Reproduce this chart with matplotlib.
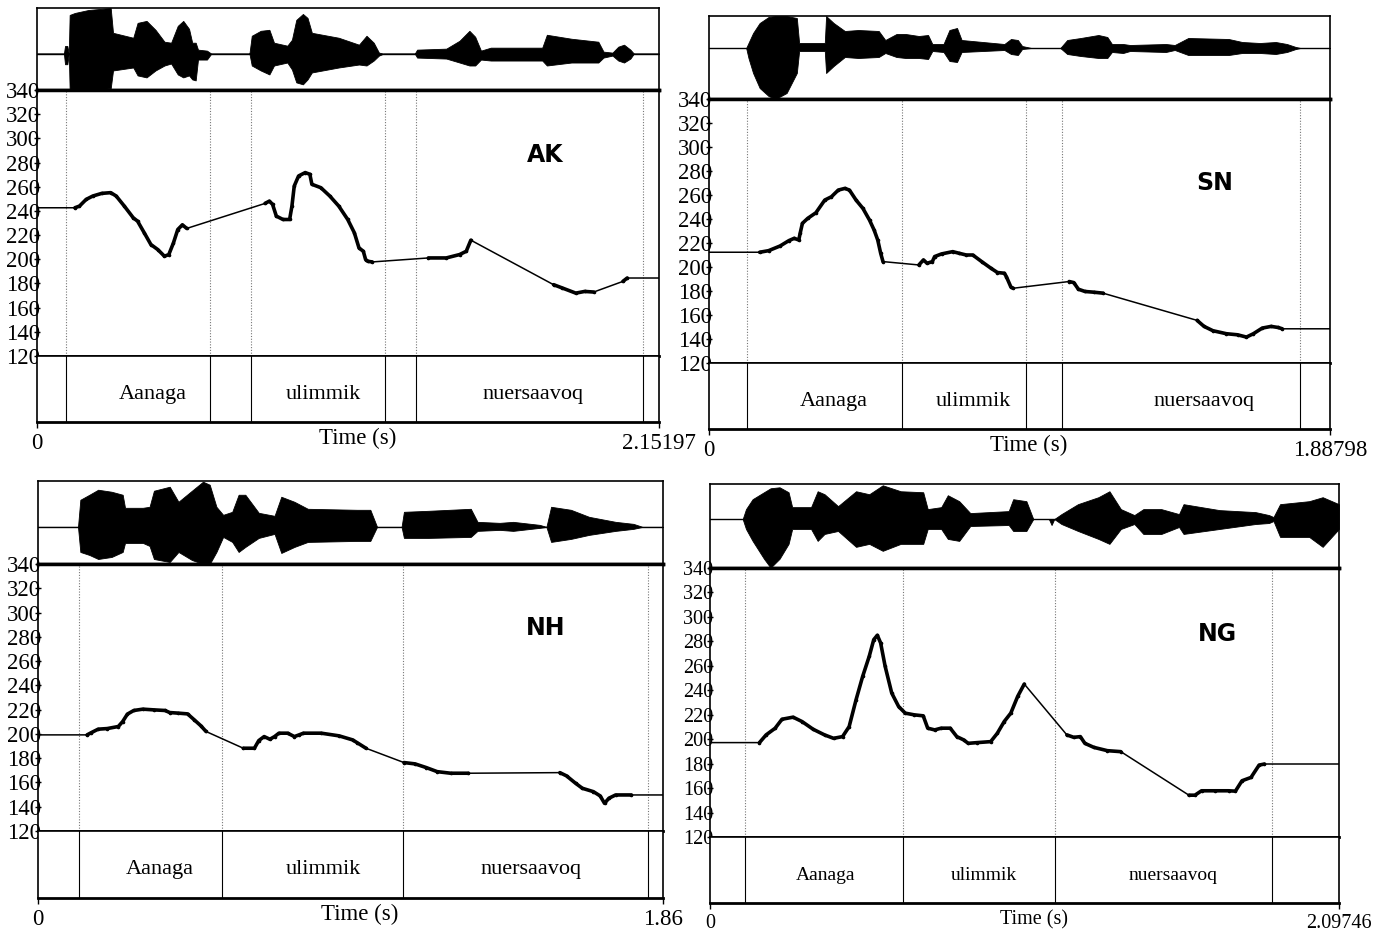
import matplotlib
matplotlib.use("Agg")
import matplotlib.pyplot as plt

W, H = 1394, 931

# ---------------- data ----------------
speakers = ["AK", "SN", "NH", "NG"]
durations = [2.15197, 1.88798, 1.86, 2.09746]
dur_labels = ["2.15197", "1.88798", "1.86", "2.09746"]
words = ["Aanaga", "ulimmik", "nuersaavoq"]

# interval boundaries (s)
ak_bounds = [0.100, 0.599, 0.740, 1.204, 1.311, 2.097]
sn_bounds = [0.1155, 0.587, 0.964, 1.073, 1.797]
nh_bounds = [0.122, 0.548, 1.086, 1.815]
ng_bounds = [0.117, 0.644, 1.150, 1.874]

# centre of the word labels (s)
ak_word_t = [0.401, 0.989, 1.716]
sn_word_t = [0.380, 0.803, 1.505]
nh_word_t = [0.363, 0.848, 1.467]
ng_word_t = [0.384, 0.914, 1.544]

# speaker tag position (fraction of duration, Hz)
tag_pos = [(0.817, 286), (0.815, 270), (0.812, 287), (0.806, 286)]

# pitch contours: voiced stretches (time s, F0 Hz)
ak_t = [[0.131, 0.147, 0.170, 0.193, 0.224, 0.255, 0.274, 0.302, 0.333, 0.348, 0.371,
         0.394, 0.418, 0.441, 0.456, 0.472, 0.487, 0.503, 0.518],
        [0.789, 0.804, 0.815, 0.828, 0.851, 0.874, 0.882, 0.890, 0.905, 0.928, 0.944,
         0.951, 0.982, 1.013, 1.044, 1.075, 1.098, 1.114, 1.129, 1.137, 1.145, 1.160],
        [1.354, 1.416, 1.462, 1.485, 1.501],
        [1.787, 1.818, 1.864, 1.895, 1.926],
        [2.027, 2.042]]
ak_f = [[242.6, 244.0, 249.5, 252.3, 254.5, 255.1, 252.3, 244.0, 234.3, 231.5, 221.9,
         212.2, 208.0, 202.5, 203.9, 213.5, 224.6, 228.5, 225.5],
        [246.2, 248.1, 245.4, 235.7, 232.9, 232.9, 244.0, 260.6, 268.9, 271.7, 270.3,
         262.0, 259.2, 252.3, 244.0, 232.9, 221.9, 209.4, 206.6, 199.7, 198.3, 197.8],
        [201.1, 201.1, 203.9, 206.6, 215.8],
        [179.0, 176.2, 172.0, 173.4, 172.9],
        [181.7, 184.5]]

sn_t = [[0.154, 0.181, 0.216, 0.243, 0.259, 0.273, 0.277, 0.284, 0.300, 0.325, 0.352,
         0.372, 0.393, 0.413, 0.427, 0.447, 0.468, 0.488, 0.502, 0.513, 0.522, 0.529],
        [0.638, 0.652, 0.663, 0.679, 0.686, 0.707, 0.741, 0.761, 0.782, 0.802, 0.829,
         0.857, 0.877, 0.898, 0.904, 0.918, 0.925],
        [1.095, 1.109, 1.123, 1.143, 1.170, 1.198],
        [1.484, 1.505, 1.532, 1.573, 1.607, 1.634, 1.655, 1.682, 1.709, 1.730, 1.743]]
sn_f = [[212.3, 213.6, 217.5, 222.0, 223.9, 222.5, 228.0, 236.4, 240.5, 245.2, 255.8,
         258.5, 264.1, 265.5, 264.1, 255.8, 248.8, 239.1, 230.8, 222.5, 211.4, 204.5],
        [201.7, 205.9, 203.1, 204.5, 208.7, 210.9, 212.8, 211.4, 210.0, 210.0, 204.5,
         199.0, 195.4, 194.8, 192.0, 183.2, 182.3],
        [187.9, 187.0, 181.5, 179.6, 179.0, 178.2],
        [155.5, 150.5, 146.9, 144.4, 143.5, 141.6, 144.4, 149.1, 150.5, 149.6, 148.5]]

nh_t = [[0.146, 0.159, 0.179, 0.206, 0.239, 0.252, 0.266, 0.285, 0.312, 0.345, 0.378,
         0.392, 0.418, 0.445, 0.465, 0.485, 0.500],
        [0.611, 0.644, 0.657, 0.673, 0.690, 0.704, 0.717, 0.743, 0.763, 0.777, 0.790,
         0.843, 0.896, 0.936, 0.949, 0.976],
        [1.089, 1.122, 1.155, 1.188, 1.228, 1.281],
        [1.553, 1.573, 1.600, 1.620, 1.653, 1.673, 1.686, 1.699, 1.719, 1.766]]
nh_f = [[199.2, 201.1, 203.9, 204.4, 206.1, 210.2, 216.3, 219.3, 220.4, 219.8, 219.3,
         217.6, 217.1, 216.5, 211.6, 206.6, 202.0],
        [188.2, 188.2, 194.5, 197.8, 195.6, 197.8, 200.6, 200.6, 197.8, 199.2, 200.6,
         200.6, 198.4, 195.1, 192.9, 188.2],
        [176.4, 175.3, 172.3, 168.9, 167.6, 167.6],
        [168.1, 165.4, 159.3, 155.2, 152.4, 148.9, 142.8, 147.0, 149.7, 149.7]]

ng_t = [[0.165, 0.187, 0.217, 0.240, 0.277, 0.307, 0.344, 0.382, 0.412, 0.442, 0.464,
         0.487, 0.509, 0.531, 0.546, 0.558, 0.569, 0.584, 0.606, 0.629, 0.651, 0.681,
         0.711, 0.726, 0.749, 0.771, 0.801, 0.823, 0.846, 0.861, 0.891, 0.936, 0.958,
         0.981, 1.003, 1.026, 1.048],
        [1.190, 1.213, 1.235, 1.250, 1.280, 1.325, 1.370],
        [1.597, 1.617, 1.639, 1.684, 1.729, 1.752, 1.774, 1.804, 1.831, 1.849]]
ng_f = [[197.2, 203.5, 208.9, 216.3, 218.0, 214.4, 208.1, 203.5, 200.7, 202.1, 210.3,
         232.2, 251.3, 267.8, 281.4, 285.0, 278.7, 259.6, 237.7, 226.7, 221.3, 219.9,
         219.1, 209.0, 207.6, 209.0, 209.0, 202.1, 199.4, 196.6, 197.2, 198.0, 204.8,
         214.4, 221.3, 235.0, 245.1],
        [203.5, 201.5, 202.1, 196.6, 193.3, 190.6, 189.8],
        [154.2, 154.2, 157.8, 157.8, 157.8, 157.5, 166.0, 168.7, 178.8, 179.7]]

# waveform envelopes (time s, upper, lower amplitude)
ak_wt = [0, 0.093, 0.097, 0.105, 0.110, 0.113, 0.131, 0.178, 0.255, 0.263, 0.333, 0.348,
         0.379, 0.410, 0.441, 0.464, 0.487, 0.506, 0.526, 0.537, 0.549, 0.557, 0.588,
         0.603, 0.735, 0.743, 0.774, 0.804, 0.820, 0.866, 0.882, 0.897, 0.920, 0.936,
         0.951, 1.044, 1.114, 1.140, 1.165, 1.183, 1.199, 1.307, 1.315, 1.416, 1.462,
         1.496, 1.516, 1.536, 1.570, 1.748, 1.764, 1.849, 1.942, 1.960, 1.991, 2.011,
         2.031, 2.053, 2.065, 2.152]
ak_wu = [0, 0, 7.7, 7.7, 0, 39, 41, 44, 46, 21, 16, 31, 33, 24, 12, 11, 28, 33, 25, 11,
         11, 4, 3, 0, 0, 18, 23, 24, 11, 8, 14, 34, 40, 36, 21, 16, 9, 18, 11, 1, 0, 0,
         4, 5, 13, 23, 17, 3, 6, 6, 19, 15, 12, 2, 1, 7, 9, 4, 0, 0]
ak_wl = [0, 0, -10.7, -10.7, 0, -36.7, -36.7, -36, -35, -17, -14, -22, -24, -17, -12,
         -10, -21, -24, -22, -26, -27, -6, -6, 0, 0, -12, -17, -21, -12, -9, -16, -29,
         -31, -26, -19, -14, -11, -12, -7, -2, 0, 0, -4, -5, -9, -12, -12, -6, -7, -7,
         -12, -9, -9, -4, -2, -7, -9, -5, 0, 0]

sn_wt = [0, 0.113, 0.120, 0.134, 0.154, 0.181, 0.202, 0.236, 0.267, 0.274, 0.352, 0.356,
         0.379, 0.413, 0.454, 0.516, 0.536, 0.570, 0.598, 0.638, 0.666, 0.679, 0.713,
         0.731, 0.754, 0.768, 0.898, 0.918, 0.939, 0.952, 0.980, 1.068, 1.089, 1.130,
         1.184, 1.211, 1.225, 1.259, 1.280, 1.389, 1.416, 1.457, 1.580, 1.621, 1.675,
         1.723, 1.757, 1.784, 1.798, 1.888]
sn_wu = [0, 0, 5, 15, 25, 31, 32, 32, 30, 5, 5, 32, 25, 17, 18, 17, 8, 14, 14, 12, 13,
         4, 4, 18, 20, 8, 4, 9, 8, 2, 0, 0, 8, 10, 13, 11, 4, 4, 3, 4, 3, 10, 9, 6, 5,
         6, 4, 1, 0, 0]
sn_wl = [0, 0, -10, -25, -40, -48, -51, -45, -25, -3, -3, -25, -18, -9, -10, -9, -5, -9,
         -10, -10, -11, -3, -4, -13, -14, -4, -2, -6, -7, -1, 0, 0, -6, -8, -10, -10, -4,
         -5, -3, -4, -2, -7, -7, -5, -5, -6, -4, -1, 0, 0]

nh_wt = [0, 0.119, 0.126, 0.153, 0.179, 0.219, 0.252, 0.259, 0.312, 0.332, 0.345, 0.392,
         0.418, 0.458, 0.491, 0.511, 0.531, 0.551, 0.578, 0.597, 0.617, 0.657, 0.704,
         0.724, 0.763, 0.803, 0.949, 0.989, 1.009, 1.082, 1.089, 1.162, 1.288, 1.308,
         1.374, 1.414, 1.493, 1.513, 1.527, 1.586, 1.640, 1.719, 1.772, 1.799, 1.860]
nh_wu = [0, 0, 27, 32, 37, 35, 32, 19, 19, 20, 36, 40, 25, 36, 45, 42, 20, 12, 15, 32,
         32, 14, 11, 30, 25, 18, 17, 17, 0, 0, 15, 16, 18, 5, 4, 5, 2, 0, 20, 17, 10, 5,
         3, 0, 0]
nh_wl = [0, 0, -25, -28, -32, -30, -25, -16, -16, -19, -32, -35, -25, -33, -37, -37,
         -25, -10, -15, -25, -20, -11, -7, -26, -20, -15, -14, -14, 0, 0, -11, -11, -10,
         -4, -3, -4, -1, 0, -15, -12, -8, -4, -2, 0, 0]

ng_wt = [0, 0.109, 0.120, 0.142, 0.180, 0.202, 0.232, 0.262, 0.274, 0.337, 0.359, 0.382,
         0.427, 0.487, 0.531, 0.576, 0.636, 0.711, 0.726, 0.771, 0.793, 0.831, 0.868,
         0.996, 1.011, 1.055, 1.078, 1.130, 1.139, 1.148, 1.172, 1.227, 1.295, 1.332,
         1.370, 1.415, 1.445, 1.505, 1.564, 1.579, 1.699, 1.819, 1.864, 1.879, 1.901,
         1.998, 2.043, 2.097]
ng_wu = [0, 0, 10, 20, 27, 31, 32, 27, 12, 12, 28, 25, 13, 28, 25, 34, 28, 27, 10, 12,
         24, 18, 6, 8, 20, 18, 0, 0, 0, 0, 5, 15, 22, 28, 10, 4, 10, 10, 5, 15, 9, 7, 4,
         2, 15, 18, 22, 15]
ng_wl = [0, 0, -10, -22, -40, -49, -40, -25, -10, -10, -22, -15, -12, -28, -25, -32,
         -25, -25, -10, -10, -20, -22, -7, -6, -12, -12, 0, 0, -6, 0, -5, -12, -20, -25,
         -10, -5, -15, -15, -8, -15, -10, -5, -4, -2, -18, -18, -28, -10]

# waveform box limits (lower, upper)
wave_lims = [(-36.7, 46), (-51, 32), (-37, 45.7), (-49.3, 35.3)]

bounds = [ak_bounds, sn_bounds, nh_bounds, ng_bounds]
word_t = [ak_word_t, sn_word_t, nh_word_t, ng_word_t]
pitch_t = [ak_t, sn_t, nh_t, ng_t]
pitch_f = [ak_f, sn_f, nh_f, ng_f]
wave_t = [ak_wt, sn_wt, nh_wt, ng_wt]
wave_u = [ak_wu, sn_wu, nh_wu, ng_wu]
wave_l = [ak_wl, sn_wl, nh_wl, ng_wl]

# ---------------- layout (pixels) ----------------
# x0, x1, wave top, pitch top, grid top, grid bottom
boxes = [(37, 659, 8, 90, 356, 422),
         (709, 1330, 16, 99, 363, 429),
         (38, 663, 481, 564, 831, 898),
         (710, 1339, 484, 568, 837, 903)]
fsz = [16.5, 16.5, 16.5, 14.5]
wsz = [16, 16, 16, 14]

plt.rcParams['font.family'] = ['Liberation Serif', 'DejaVu Serif']

fig = plt.figure(figsize=(W / 100, H / 100), dpi=100)


def px_axes(x0, x1, y0, y1):
    return fig.add_axes([x0 / W, 1 - y1 / H, (x1 - x0) / W, (y1 - y0) / H])


for i in range(4):
    x0, x1, yw, yp, yg, yb = boxes[i]
    dur = durations[i]

    # waveform
    axw = px_axes(x0, x1, yw, yp)
    axw.fill_between(wave_t[i], wave_l[i], wave_u[i], color='black', lw=0.6)
    axw.plot([0, dur], [0, 0], color='black', lw=1)
    axw.set_xlim(0, dur)
    axw.set_ylim(*wave_lims[i])
    axw.set_xticks([])
    axw.set_yticks([])
    for s in axw.spines.values():
        s.set_linewidth(1.2)
    axw.spines['bottom'].set_linewidth(2.5)

    # pitch
    axp = px_axes(x0, x1, yp, yg)
    axp.set_xlim(0, dur)
    axp.set_ylim(120, 340)
    for b in bounds[i]:
        axp.axvline(b, color='#777777', lw=0.8, ls=(0, (1, 1.5)))
    # full contour with thin interpolation through unvoiced parts
    all_t = [0] + [t for seg in pitch_t[i] for t in seg] + [dur]
    all_f = [pitch_f[i][0][0]] + [f for seg in pitch_f[i] for f in seg] + [pitch_f[i][-1][-1]]
    axp.plot(all_t, all_f, color='black', lw=1.1)
    for st, sf in zip(pitch_t[i], pitch_f[i]):
        axp.plot(st, sf, color='black', lw=2.6, marker='o', ms=1.6,
                 solid_joinstyle='round', solid_capstyle='round')
    fx, fy = tag_pos[i]
    axp.text(fx * dur, fy, speakers[i], family='DejaVu Sans', weight='bold',
             fontsize=17, ha='center', va='center')
    axp.set_xticks([])
    axp.set_yticks(range(120, 341, 20))
    axp.tick_params(axis='y', direction='inout', length=5, width=1, pad=-5,
                    labelsize=fsz[i])
    for s in axp.spines.values():
        s.set_linewidth(1.2)
    axp.spines['top'].set_linewidth(2.5)
    axp.spines['bottom'].set_linewidth(2)

    # text grid
    axg = px_axes(x0, x1, yg, yb)
    axg.set_xlim(0, dur)
    axg.set_ylim(0, 1)
    for b in bounds[i]:
        axg.axvline(b, color='black', lw=0.8)
    for w, t in zip(words, word_t[i]):
        axg.text(t, 0.42, w, ha='center', va='center', fontsize=wsz[i])
    axg.set_yticks([])
    axg.set_xticks([0, dur])
    axg.set_xticklabels(["0", dur_labels[i]])
    axg.tick_params(axis='x', direction='out', length=4, width=1, pad=4,
                    labelsize=fsz[i])
    for s in axg.spines.values():
        s.set_linewidth(1.2)
    axg.spines['bottom'].set_linewidth(2)
    axg.annotate("Time (s)", xy=(0.515, 0), xycoords='axes fraction',
                 xytext=(0, -12), textcoords='offset points',
                 ha='center', va='center', fontsize=fsz[i])

fig.savefig("out.png", dpi=100)
